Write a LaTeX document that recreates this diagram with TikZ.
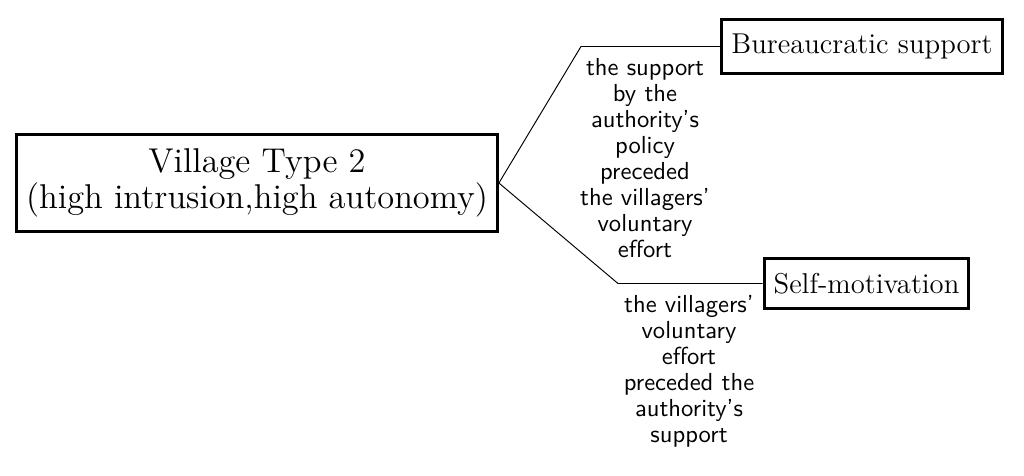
\documentclass[tikz,border=0pt]{standalone}
\usepackage{tikz}
\tikzset{block/.style = {draw, fill=white, very thick, rectangle, align=center, inner xsep=4pt, inner ysep=6pt},
         big/.style = {font=\fontsize{14.4}{15.2}\selectfont},
         mid/.style = {font=\large},
         note/.style = {font=\sffamily\fontsize{10.3}{10.9}\selectfont, align=center, inner sep=0pt, anchor=north}}
\begin{document}
\begin{tikzpicture}[x=0.4184pt, y=-0.4184pt]
        \useasboundingbox(0,0)rectangle(1024,475);
        \node[block,big](village)at(257,183){Village Type 2\\(high intrusion,high autonomy)};
        \node[block,mid](bureau)at(862,46.5){Bureaucratic support};
        \node[block,mid](selfmot)at(866.5,283.5){Self-motivation};
        \coordinate(kup)at(581,46.5);
        \coordinate(kdown)at(618,283.5);
        \draw(village.east)--(kup)--(bureau.west);
        \draw(village.east)--(kdown)--(selfmot.west);
        \node[note](upnote)at(645,58){the support\\by the\\authority's\\policy\\preceded\\the villagers'\\voluntary\\effort};
        \node[note](downnote)at(689,295){the villagers'\\voluntary\\effort\\preceded the\\authority's\\support};
    \end{tikzpicture}
\end{document}
